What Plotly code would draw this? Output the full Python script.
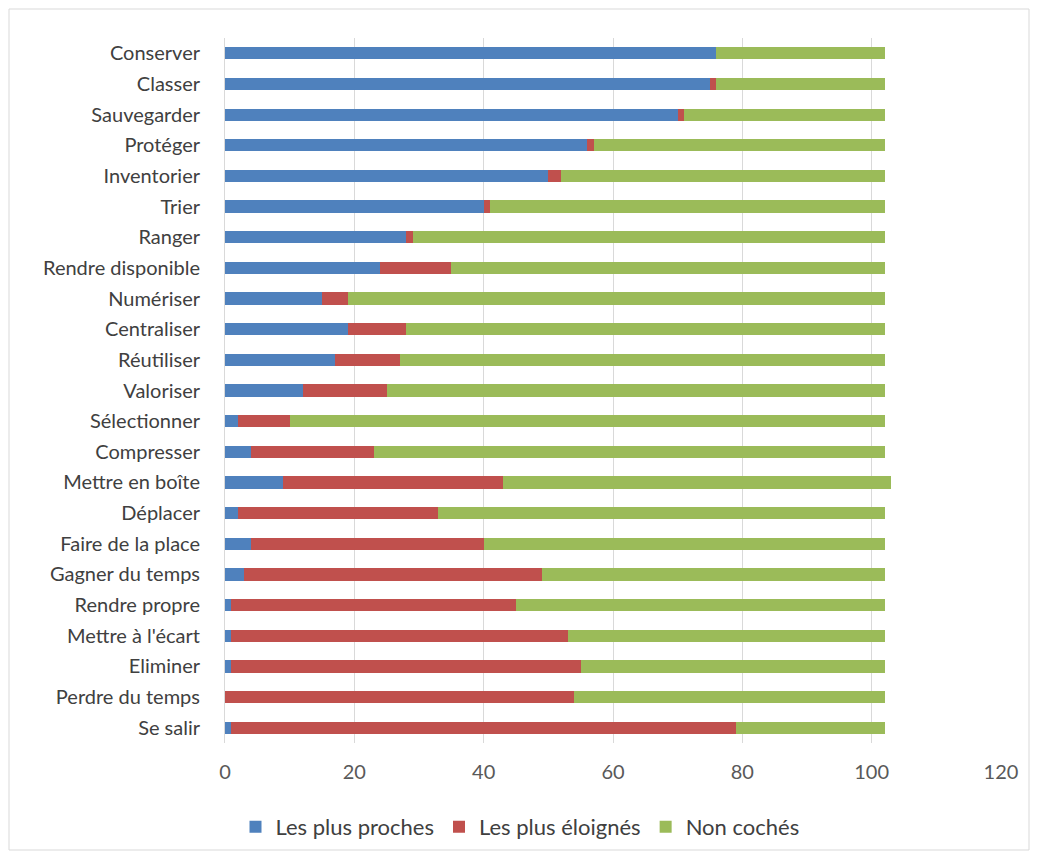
import plotly.graph_objects as go

categories = ["Conserver", "Classer", "Sauvegarder", "Protéger", "Inventorier", "Trier",
              "Ranger", "Rendre disponible", "Numériser", "Centraliser", "Réutiliser",
              "Valoriser", "Sélectionner", "Compresser", "Mettre en boîte", "Déplacer",
              "Faire de la place", "Gagner du temps", "Rendre propre", "Mettre à l'écart",
              "Eliminer", "Perdre du temps", "Se salir"]
proches = [76, 75, 70, 56, 50, 40, 28, 24, 15, 19, 17, 12, 2, 4, 9, 2, 4, 3, 1, 1, 1, 0, 1]
eloignes = [0, 1, 1, 1, 2, 1, 1, 11, 4, 9, 10, 13, 8, 19, 34, 31, 36, 46, 44, 52, 54, 54, 78]
non_coches = [26, 26, 31, 45, 50, 61, 73, 67, 83, 74, 75, 77, 92, 79, 60, 69, 62, 53, 57, 49, 47, 48, 23]
x_ticks = [0, 20, 40, 60, 80, 100, 120]

series = [("Les plus proches", proches, "#4f81bd"),
          ("Les plus éloignés", eloignes, "#c0504d"),
          ("Non cochés", non_coches, "#9bbb59")]

fig = go.Figure()
for name, vals, col in series:
    fig.add_trace(go.Bar(y=categories, x=vals, name=name, orientation="h",
                         marker=dict(color=col, line=dict(width=0))))

L, R, T, B = 217, 29, 30, 108
W, H = 1022, 843
pw, ph = W - L - R, H - T - B

font_fam = "Lato, Open Sans, sans-serif"
fig.update_layout(
    barmode="stack", bargap=0.6,
    width=W, height=H,
    margin=dict(l=L, r=R, t=T, b=B, autoexpand=False),
    paper_bgcolor="white", plot_bgcolor="white",
    font=dict(family=font_fam, size=20, color="#595959"),
    xaxis=dict(range=[0, 120], tickvals=x_ticks, showgrid=True, gridcolor="#d9d9d9",
               gridwidth=1, zeroline=False, showline=False, ticks="",
               ticklabelstandoff=15,
               tickfont=dict(size=20, color="#595959")),
    yaxis=dict(autorange="reversed", showline=True, linecolor="#d9d9d9", linewidth=1,
               ticks="", ticklabelstandoff=20, tickfont=dict(size=20, color="#404040")),
    legend=dict(orientation="h", x=(520 - 225) / pw, xanchor="center",
                y=-(827 - 743) / ph, yanchor="middle", itemwidth=30,
                font=dict(size=22, color="#404040"), traceorder="normal"),
    shapes=[dict(type="rect", xref="paper", yref="paper",
                 x0=-(L - 1) / pw, x1=1 + (R - 1) / pw,
                 y0=-(B - 1) / ph, y1=1 + (T - 1) / ph,
                 line=dict(color="#d9d9d9", width=1))],
)
fig.write_html("out.html")
